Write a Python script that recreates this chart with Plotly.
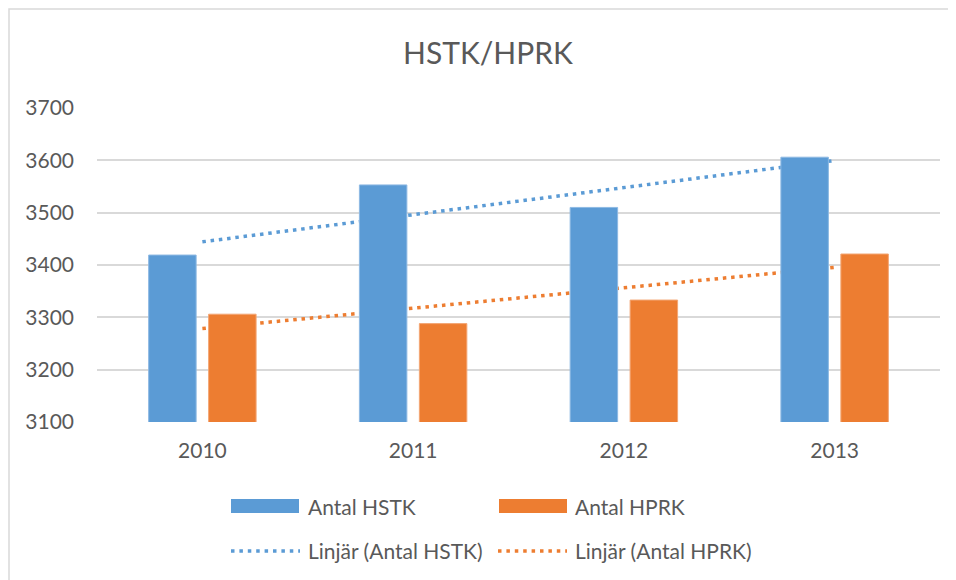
import numpy as np
import plotly.graph_objects as go

years = ["2010", "2011", "2012", "2013"]
hstk = [3419, 3553, 3510, 3606]
hprk = [3306, 3288, 3333, 3421]
y_ticks = [3100, 3200, 3300, 3400, 3500, 3600, 3700]

BLUE = "#5B9BD5"
ORANGE = "#ED7D31"
TXT = "#595959"
GRID = "#D9D9D9"
FONT = "Lato, 'Open Sans', sans-serif"

# the page body has an 8px margin; work in reference-pixel coords and shift
OFF = 8
W, H = 956 - OFF, 580 - OFF
ML, MR, MT, MB = 97 - OFF, 16, 108 - OFF, 158
PW, PH = W - ML - MR, H - MT - MB


def px(x):
    return (x - OFF - ML) / PW


def py(y):
    return (H - MB - (y - OFF)) / PH


# linear trendlines (least squares, like Excel's "Linjär")
xi = np.arange(1, len(years) + 1)
k1, m1 = np.polyfit(xi, hstk, 1)
k2, m2 = np.polyfit(xi, hprk, 1)
trend_hstk = k1 * xi + m1
trend_hprk = k2 * xi + m2

fig = go.Figure()
fig.add_trace(go.Bar(x=years, y=hstk, name="Antal HSTK", marker=dict(color=BLUE, line=dict(color="#8DB9E3", width=1)), zorder=1, showlegend=False))
fig.add_trace(go.Bar(x=years, y=hprk, name="Antal HPRK", marker=dict(color=ORANGE, line=dict(color="#F3A674", width=1)), zorder=1, showlegend=False))
fig.add_trace(go.Scatter(x=years, y=trend_hstk, mode="lines", name="Linjär (Antal HSTK)",
                         line=dict(color=BLUE, width=3.5, dash="3.5px,4.8px"), zorder=0, showlegend=False))
fig.add_trace(go.Scatter(x=years, y=trend_hprk, mode="lines", name="Linjär (Antal HPRK)",
                         line=dict(color=ORANGE, width=3.5, dash="3.5px,4.8px"), zorder=0, showlegend=False))

shapes = [
    # chart border
    dict(type="rect", xref="paper", yref="paper", x0=px(9), x1=px(1000), y0=py(620), y1=py(9),
         line=dict(color=GRID, width=1.5), fillcolor="rgba(0,0,0,0)", layer="below"),
    # legend symbols
    dict(type="rect", xref="paper", yref="paper", x0=px(231), x1=px(299), y0=py(513), y1=py(499),
         line=dict(width=0), fillcolor=BLUE),
    dict(type="rect", xref="paper", yref="paper", x0=px(499), x1=px(567), y0=py(513), y1=py(499),
         line=dict(width=0), fillcolor=ORANGE),
    dict(type="line", xref="paper", yref="paper", x0=px(231), x1=px(300), y0=py(551), y1=py(551),
         line=dict(color=BLUE, width=3.5, dash="3.5px,4.9px")),
    dict(type="line", xref="paper", yref="paper", x0=px(498), x1=px(567), y0=py(551), y1=py(551),
         line=dict(color=ORANGE, width=3.5, dash="3.5px,4.9px")),
]

annotations = []
for label, x0, y0 in [("Antal HSTK", 306, 506), ("Antal HPRK", 573, 506),
                      ("Linjär (Antal HSTK)", 306, 550), ("Linjär (Antal HPRK)", 573, 550)]:
    annotations.append(dict(text=label, xref="paper", yref="paper", x=px(x0), y=py(y0),
                            xanchor="left", yanchor="middle", showarrow=False,
                            font=dict(family=FONT, size=21, color=TXT)))

fig.update_layout(
    width=W, height=H,
    margin=dict(l=ML, r=MR, t=MT, b=MB),
    paper_bgcolor="white", plot_bgcolor="white",
    barmode="group", bargap=0.431, bargroupgap=0.208,
    title=dict(text="HSTK/HPRK", x=(488 - OFF) / W, xanchor="center", y=1 - (53 - OFF) / H, yanchor="middle",
               font=dict(family=FONT, size=30, color=TXT)),
    font=dict(family=FONT, size=21, color=TXT),
    showlegend=False,
    shapes=shapes,
    annotations=annotations,
    xaxis=dict(type="category", showgrid=False, showline=True, linecolor=GRID, linewidth=1.5,
               ticks="", ticklabelstandoff=9, tickfont=dict(family=FONT, size=21, color=TXT)),
    yaxis=dict(range=[3100, 3700], tickvals=y_ticks, showgrid=True, gridcolor=GRID, gridwidth=1.5,
               zeroline=False, showline=False, ticks="", ticklabelstandoff=22,
               tickfont=dict(family=FONT, size=21, color=TXT)),
)

fig.write_html("out.html")
